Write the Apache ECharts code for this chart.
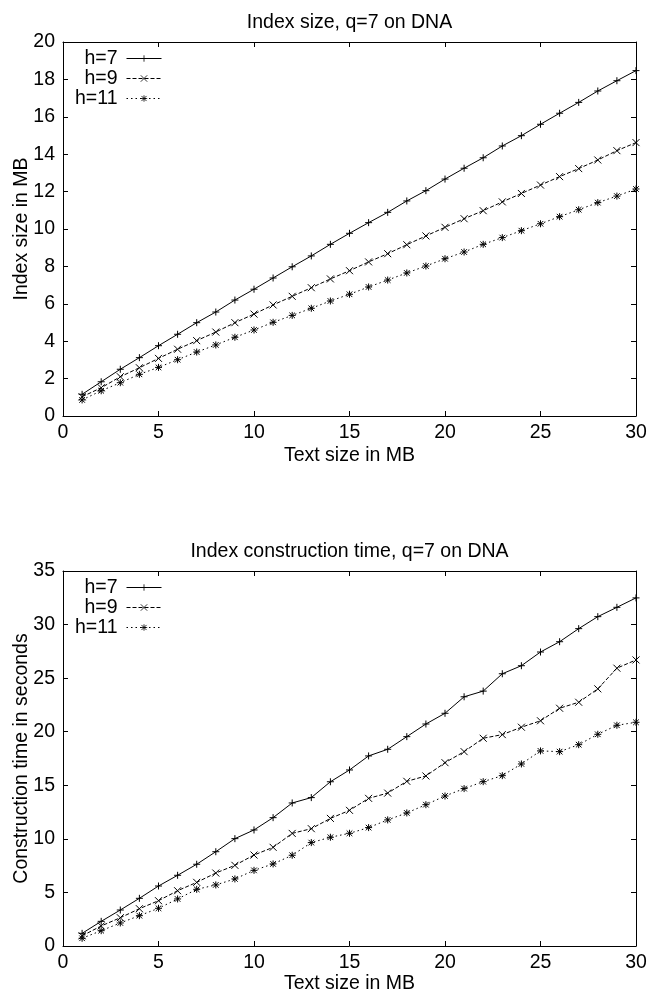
<!DOCTYPE html>
<html>
<head>
<meta charset="utf-8">
<script src="https://cdn.jsdelivr.net/npm/echarts@6/dist/echarts.min.js"></script>
<style>
html,body{margin:0;padding:0;background:#fff;}
#c{width:649px;height:992px;}
</style>
</head>
<body>
<div id="c"></div>
<script>
// ---- data ----
var textSize = [1,2,3,4,5,6,7,8,9,10,11,12,13,14,15,16,17,18,19,20,21,22,23,24,25,26,27,28,29,30];
var seriesNames = ['h=7','h=9','h=11'];
var xTicks = [0,5,10,15,20,25,30];
var sizeTicks = [0,2,4,6,8,10,12,14,16,18,20];
var timeTicks = [0,5,10,15,20,25,30,35];

var sizeH7  = [1.16,1.83,2.50,3.12,3.76,4.37,4.99,5.56,6.20,6.78,7.38,7.98,8.56,9.18,9.77,10.34,10.89,11.50,12.05,12.67,13.25,13.81,14.44,14.99,15.60,16.19,16.77,17.38,17.93,18.47];
var sizeH9  = [1.03,1.51,2.10,2.58,3.08,3.57,4.03,4.49,4.99,5.45,5.94,6.40,6.86,7.33,7.77,8.24,8.68,9.16,9.63,10.09,10.55,10.98,11.45,11.90,12.35,12.80,13.23,13.69,14.19,14.62];
var sizeH11 = [0.86,1.35,1.78,2.23,2.60,3.01,3.42,3.80,4.21,4.60,5.01,5.38,5.76,6.15,6.51,6.90,7.27,7.65,8.02,8.41,8.77,9.18,9.54,9.91,10.28,10.66,11.03,11.41,11.76,12.14];

var timeH7  = [1.18,2.30,3.36,4.45,5.60,6.60,7.63,8.80,10.02,10.83,11.98,13.35,13.85,15.33,16.43,17.74,18.36,19.54,20.72,21.72,23.26,23.79,25.41,26.16,27.44,28.40,29.62,30.74,31.61,32.49];
var timeH9  = [0.95,1.87,2.64,3.48,4.23,5.16,5.94,6.81,7.53,8.49,9.21,10.51,10.95,11.91,12.66,13.78,14.27,15.37,15.87,17.11,18.14,19.39,19.73,20.42,21.02,22.19,22.75,24.00,25.93,26.70];
var timeH11 = [0.72,1.43,2.15,2.83,3.52,4.39,5.29,5.70,6.26,7.06,7.66,8.47,9.65,10.15,10.52,11.05,11.77,12.42,13.19,14.00,14.69,15.34,15.90,16.99,18.21,18.14,18.79,19.76,20.60,20.88];

// ---- styles ----
var FONT = 'Liberation Sans';
var FS = 19.5;
var symPlus = 'path://M0,5L10,5M5,0L5,10';
var symCross = 'path://M0,0L10,10M0,10L10,0';
var symStar = 'path://M0,5L10,5M5,0L5,10M1,1L9,9M1,9L9,1';
var symbols = [symPlus, symCross, symStar];
var dashes = ['solid', [4,2], [1.5,3]];

function pairs(ys){ return textSize.map(function(x,i){ return [x, ys[i]]; }); }

function makeX(grid, pos, showLabel, nameGap){
  return {
    type:'value', gridIndex:grid, position:pos, min:xTicks[0], max:xTicks[xTicks.length-1], interval:xTicks[1]-xTicks[0],
    name: showLabel ? 'Text size in MB' : '', nameLocation:'middle', nameGap:nameGap,
    nameTextStyle:{fontFamily:FONT, fontSize:FS, color:'#000'},
    axisLine:{show:true, onZero:false, lineStyle:{color:'#000', width:1}},
    axisTick:{show:true, inside:true, length:5, lineStyle:{color:'#000'}},
    axisLabel:{show:showLabel, margin:7, fontFamily:FONT, fontSize:FS, color:'#000'},
    splitLine:{show:false}
  };
}
function makeY(grid, pos, ticks, showLabel, name){
  return {
    type:'value', gridIndex:grid, position:pos, min:ticks[0], max:ticks[ticks.length-1], interval:ticks[1]-ticks[0],
    name: showLabel ? name : '', nameLocation:'middle', nameGap:31, nameMoveOverlap:false,
    nameTextStyle:{fontFamily:FONT, fontSize:FS, color:'#000'},
    axisLine:{show:true, onZero:false, lineStyle:{color:'#000', width:1}},
    axisTick:{show:true, inside:true, length:5, lineStyle:{color:'#000'}},
    axisLabel:{show:showLabel, margin:8, fontFamily:FONT, fontSize:FS, color:'#000'},
    splitLine:{show:false}
  };
}
function makeSeries(idx, grid, ys){
  return {
    type:'line', name:seriesNames[idx], xAxisIndex:grid*2, yAxisIndex:grid*2,
    data:pairs(ys), symbol:symbols[idx], symbolSize:7, showSymbol:true,
    lineStyle:{color:'#000', width:1, type:dashes[idx]},
    itemStyle:{color:'#000', borderColor:'#000', borderWidth:1},
    emphasis:{disabled:true}
  };
}
function makeLegend(top){
  return {
    orient:'vertical', align:'right', right:487, top:top, itemGap:0,
    itemWidth:35, itemHeight:8, padding:0,
    lineStyle:{width:1},
    itemStyle:{borderWidth:0.8},
    textStyle:{fontFamily:FONT, fontSize:FS, color:'#000', padding:[0,4,0,0]},
    data:seriesNames, selectedMode:false
  };
}

var option = {
  animation:false,
  backgroundColor:'#fff',
  title:[
    {text:'Index size, q=7 on DNA', left:349.5, textAlign:'center', top:12.5, padding:0,
     textStyle:{fontFamily:FONT, fontSize:FS, fontWeight:'normal', color:'#000'}},
    {text:'Index construction time, q=7 on DNA', left:349.5, textAlign:'center', top:541.5, padding:0,
     textStyle:{fontFamily:FONT, fontSize:FS, fontWeight:'normal', color:'#000'}}
  ],
  legend:[ makeLegend(48.5), makeLegend(577.5) ],
  grid:[
    {left:63, top:42, width:573, height:374, containLabel:false, outerBoundsMode:'none'},
    {left:63, top:571, width:573, height:375, containLabel:false, outerBoundsMode:'none'}
  ],
  xAxis:[ makeX(0,'bottom',true,30), makeX(0,'top',false,0), makeX(1,'bottom',true,28), makeX(1,'top',false,0) ],
  yAxis:[ makeY(0,'left',sizeTicks,true,'Index size in MB'), makeY(0,'right',sizeTicks,false,''),
          makeY(1,'left',timeTicks,true,'Construction time in seconds'), makeY(1,'right',timeTicks,false,'') ],
  series:[
    makeSeries(0,0,sizeH7), makeSeries(1,0,sizeH9), makeSeries(2,0,sizeH11),
    makeSeries(0,1,timeH7), makeSeries(1,1,timeH9), makeSeries(2,1,timeH11)
  ]
};
var chart = echarts.init(document.getElementById('c'));
chart.setOption(option);
</script>
</body>
</html>
